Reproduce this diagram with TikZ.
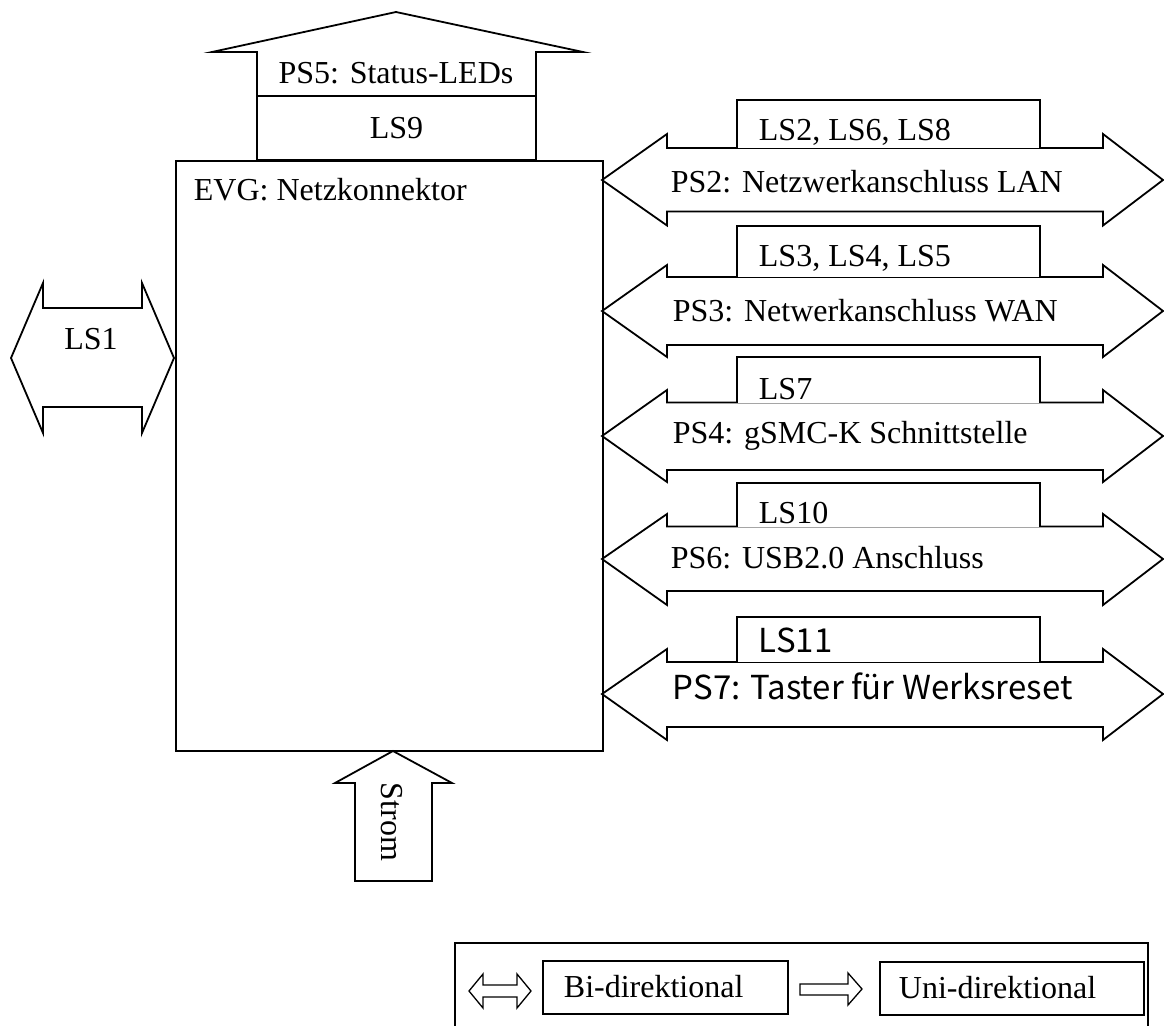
\documentclass[tikz,border=0pt]{standalone}
\usepackage{fontspec}
\setmainfont{Liberation Serif}
\newfontfamily\gothicfont{Noto Sans CJK JP}
\newcommand\myfs{\fontsize{32pt}{38pt}\selectfont}
\newcommand\mygfs{\fontsize{33pt}{39pt}\selectfont}
\newcommand\rdarrow[6]{% name, tip, shaft top, shaft bottom, barb top, barb bottom
  \draw[shp] (602,#2) -- (667,#5) -- (667,#3) -- (1103,#3) -- (1103,#5) -- (1163,#2)
    -- (1103,#6) -- (1103,#4) -- (667,#4) -- (667,#6) -- cycle;
  \coordinate (#1) at (602,#2);}
\begin{document}
\begin{tikzpicture}[x=1pt,y=-1pt,line width=1.8pt,line join=miter,
  shp/.style={draw=black,fill=white},
  txt/.style={font=\myfs,inner sep=0pt},
  gtxt/.style={font=\gothicfont\mygfs,inner sep=0pt},
  lsbox/.style={draw=black,fill=white},
  legsym/.style={draw=black,fill=white,line width=1.3pt}]
\useasboundingbox (0,0) rectangle (1164,1025);

% main box
\node[draw,minimum width=427pt,minimum height=590pt,inner sep=0pt,anchor=north west] (evg) at (175,160) {};
\node[txt,anchor=base west] (evgt) at (193,200) {EVG: Netzkonnektor};

% top arrow PS5
\draw[shp] (257,96) -- (257,52) -- (212,52) -- (396,12) -- (583,52) -- (536,52) -- (536,96);
\node[txt,anchor=base] (ps5) at (396,83) {PS5: Status-LEDs};
\node[lsbox,txt,minimum width=279pt,minimum height=64pt] (ls9) at (396.5,128) {LS9};

% left arrow LS1
\draw[shp] (11,358) -- (43,283) -- (43,308) -- (142,308) -- (142,283) -- (174,358)
  -- (142,433) -- (142,407) -- (43,407) -- (43,433) -- cycle;
\node[txt,anchor=base] (ls1) at (91,349) {LS1};

% right arrows
\rdarrow{ps2}{180}{148}{211.5}{134}{225.5}
\rdarrow{ps3}{311}{277}{345}{265}{357}
\rdarrow{ps4}{436}{402.5}{470}{390}{482}
\rdarrow{ps6}{559}{526.5}{591}{514}{605}
\rdarrow{ps7}{694}{662}{727}{649}{740}

% LS boxes
\draw[lsbox] (737,148) -- (737,100) -- (1040,100) -- (1040,148);
\draw[lsbox] (737,277) -- (737,226) -- (1040,226) -- (1040,277);
\draw[lsbox] (737,402.5) -- (737,357) -- (1040,357) -- (1040,402.5);
\draw[lsbox] (737,526.5) -- (737,483) -- (1040,483) -- (1040,526.5);
\draw[lsbox] (737,662) -- (737,617) -- (1040,617) -- (1040,662);

\node[txt,anchor=base west] (ls2) at (758,140) {LS2, LS6, LS8};
\node[txt,anchor=base west] (ls3) at (758,266) {LS3, LS4, LS5};
\node[txt,anchor=base west] (ls7) at (758,399) {LS7};
\node[txt,anchor=base west] (ls10) at (758,523) {LS10};
\node[gtxt,anchor=base west] (ls11) at (758,652) {LS11};

\node[txt,anchor=base west] (ps2t) at (670,192) {PS2: Netzwerkanschluss LAN};
\node[txt,anchor=base west] (ps3t) at (672,321) {PS3: Netwerkanschluss WAN};
\node[txt,anchor=base west] (ps4t) at (672,443) {PS4: gSMC-K Schnittstelle};
\node[txt,anchor=base west] (ps6t) at (670,568) {PS6: USB2.0 Anschluss};
\node[gtxt,anchor=base west] (ps7t) at (672,699) {PS7: Taster für Werksreset};

% bottom arrow Strom
\draw[shp] (355,881) -- (355,783) -- (335,783) -- (393,751) -- (452,783) -- (432,783) -- (432,881) -- cycle;
\node[txt,rotate=-90] (strom) at (392,822) {Strom};

% legend
\draw (455,1030) -- (455,943) -- (1148,943) -- (1148,1030);
\draw[legsym] (469,991) -- (483,974) -- (483,985) -- (517,985) -- (517,974) -- (531,991)
  -- (517,1008) -- (517,997) -- (483,997) -- (483,1008) -- cycle;
\coordinate (bisym) at (500,991);
\node[draw,minimum width=245pt,minimum height=53pt,inner sep=0pt,anchor=north west] (bibox) at (542,960) {};
\node[txt,anchor=base west] (bi) at (563,997) {Bi-direktional};
\draw[legsym] (800,984) -- (848,984) -- (848,973) -- (862,989) -- (848,1005) -- (848,995) -- (800,995) -- cycle;
\coordinate (unisym) at (831,989);
\node[draw,minimum width=264pt,minimum height=53pt,inner sep=0pt,anchor=north west] (unibox) at (879,961) {};
\node[txt,anchor=base west] (uni) at (898,998) {Uni-direktional};
\end{tikzpicture}
\end{document}
